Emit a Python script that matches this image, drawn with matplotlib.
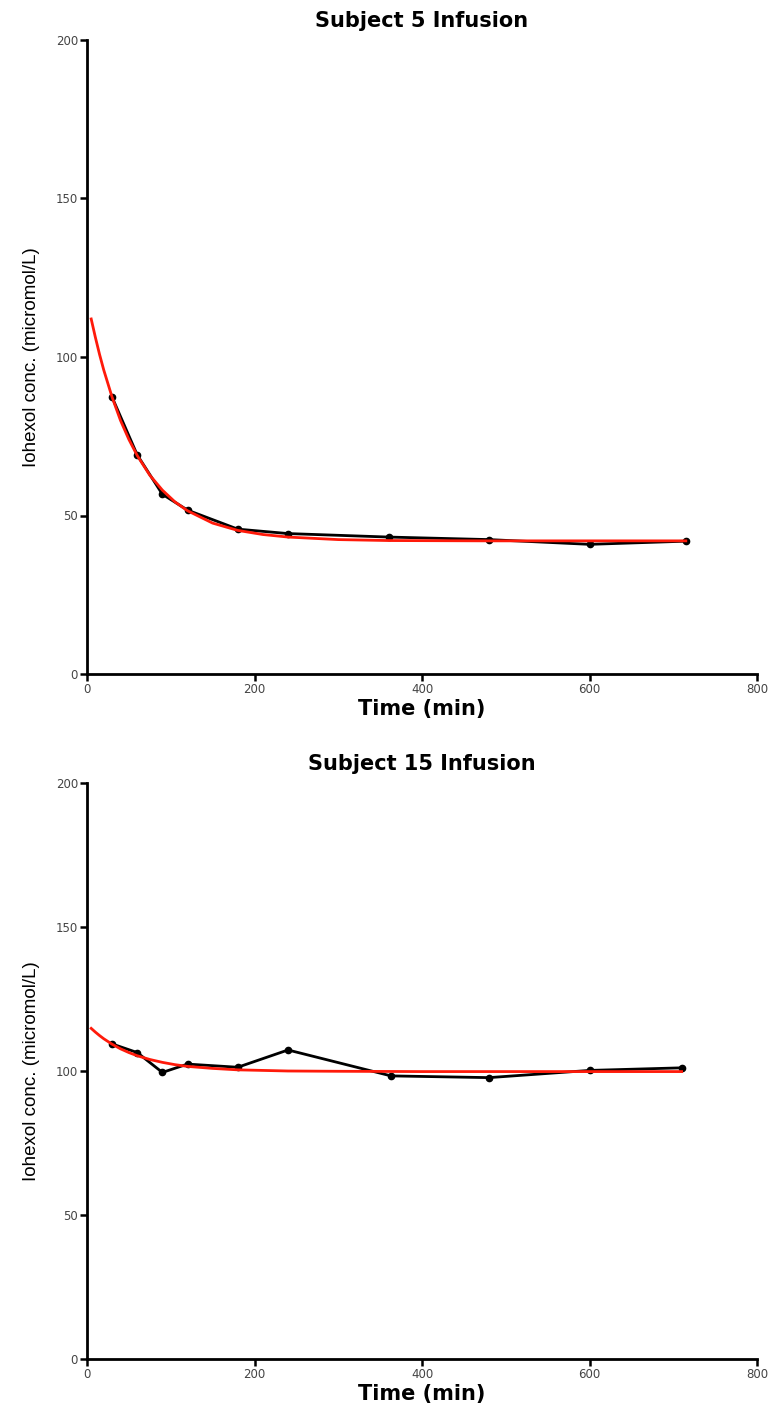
import matplotlib
matplotlib.use("Agg")
import matplotlib.pyplot as plt

# ---- data ----
s5_time = [30, 60, 90, 120, 180, 240, 360, 480, 600, 715]
s5_conc = [87.3, 69.1, 56.7, 51.7, 45.7, 44.3, 43.2, 42.4, 40.9, 41.9]
s5_fit_time = [5, 10, 15, 20, 30, 40, 50, 60, 75, 90, 105, 120, 150, 180, 210, 240, 300, 360, 480, 600, 715]
s5_fit_conc = [112.0, 106.2, 100.8, 95.9, 87.3, 80.0, 74.0, 68.9, 62.7, 58.0, 54.3, 51.5, 47.6, 45.3,
               44.0, 43.2, 42.4, 42.1, 42.0, 42.0, 42.0]

s15_time = [30, 60, 90, 120, 180, 240, 363, 480, 600, 710]
s15_conc = [109.4, 106.4, 99.5, 102.4, 101.3, 107.3, 98.3, 97.7, 100.2, 101.1]
s15_fit_time = [5, 10, 15, 20, 30, 40, 50, 60, 75, 90, 105, 120, 150, 180, 240, 300, 400, 500, 600, 710]
s15_fit_conc = [114.8, 113.5, 112.3, 111.2, 109.3, 107.7, 106.4, 105.3, 104.0, 103.0, 102.2, 101.6,
                100.9, 100.4, 100.0, 99.9, 99.8, 99.8, 99.8, 99.8]

titles = ["Subject 5 Infusion", "Subject 15 Infusion"]
x_ticks = [0, 200, 400, 600, 800]
y_ticks = [0, 50, 100, 150, 200]
x_label = "Time (min)"
y_label = "Iohexol conc. (micromol/L)"

plt.rcParams['font.family'] = ['DejaVu Sans']

fig = plt.figure(figsize=(7.7, 14.05), dpi=100)
W, H = 770, 1405
boxes = [(87, 40, 757, 674), (87, 783, 757, 1359)]
datasets = [(s5_time, s5_conc, s5_fit_time, s5_fit_conc),
            (s15_time, s15_conc, s15_fit_time, s15_fit_conc)]

for (x0, yt, x1, yb), (t, c, ft, fc), title in zip(boxes, datasets, titles):
    ax = fig.add_axes([x0 / W, 1 - yb / H, (x1 - x0) / W, (yb - yt) / H])
    ax.plot(t, c, color='black', lw=2.0, marker='o', ms=4.5, zorder=3)
    ax.plot(ft, fc, color='#ff1a0a', lw=2.0, zorder=4)
    ax.set_xlim(0, 800)
    ax.set_ylim(0, 200)
    ax.set_xticks(x_ticks)
    ax.set_yticks(y_ticks)
    for side in ['top', 'right']:
        ax.spines[side].set_visible(False)
    for side in ['left', 'bottom']:
        ax.spines[side].set_linewidth(2.0)
        ax.spines[side].set_color('black')
    ax.tick_params(direction='out', length=5, width=1.8, colors='black',
                   labelsize=8.5, labelcolor='#444444', pad=1.5)
    ax.set_title(title, fontsize=15, fontweight='bold', pad=9)
    ax.set_xlabel(x_label, fontsize=15, fontweight='bold', labelpad=2)
    ax.set_ylabel(y_label, fontsize=13.5, family=['Liberation Sans', 'DejaVu Sans'])
    ax.yaxis.set_label_coords(-0.070, 0.5)

fig.savefig("out.png", dpi=100)
